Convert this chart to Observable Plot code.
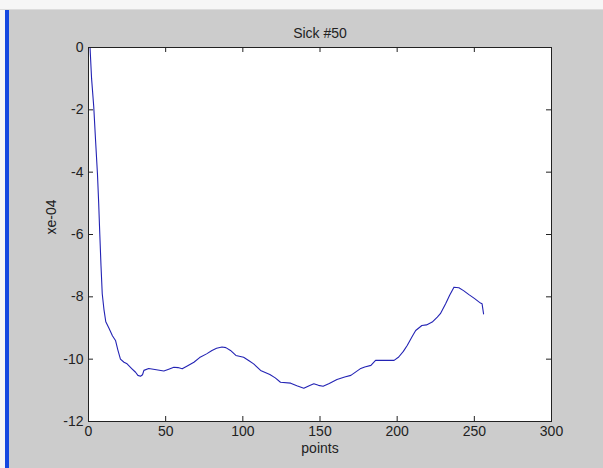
<!DOCTYPE html>
<html>
<head>
<meta charset="utf-8">
<script src="https://cdn.jsdelivr.net/npm/d3@7"></script>
<script src="https://cdn.jsdelivr.net/npm/@observablehq/plot@0.6"></script>
<style>
  html, body { margin: 0; padding: 0; background: #cccccc; overflow: hidden; }
  #wrap { position: relative; width: 603px; height: 468px; }
  #topband { position: absolute; left: 0; top: 0; width: 603px; height: 10px; background: #f6f6f6; border-bottom: 1px solid #dcdcdc; box-sizing: border-box; }
  #leftwhite { position: absolute; left: 0; top: 10px; width: 5px; height: 458px; background: #f6f6f6; }
  #bluebar { position: absolute; left: 5px; top: 10px; width: 4px; height: 458px; background: #1448e0; }
</style>
</head>
<body>
<div id="wrap">
  <div id="chart"></div>
  <div id="topband"></div>
  <div id="leftwhite"></div>
  <div id="bluebar"></div>
</div>
<script>
const titleText = "Sick #50";
const xLabelText = "points";
const yLabelText = "xe-04";
const xTicks = [0, 50, 100, 150, 200, 250, 300];
const yTicks = [0, -2, -4, -6, -8, -10, -12];

const xs = [1, 2, 3.4, 4.6, 5.8, 6.6, 7.3, 8.1, 8.9, 10, 11.2, 13.2, 15.5, 17.5, 19, 20.7, 23, 25, 28, 30.5, 32, 33.7, 35, 35.9, 39, 43, 48.8, 52, 55.3, 58, 60.7, 64, 68.3, 72, 76.5, 80, 83, 86.5, 89, 92, 95.5, 100.5, 104, 107, 111.5, 117.5, 121, 124.4, 131, 135, 139.5, 143, 146, 149, 152, 156, 161, 166, 170, 176, 179, 183, 186, 192, 198, 201, 204, 206.5, 210, 212, 216, 219, 222.7, 226, 228, 231.4, 234, 236.8, 240, 243, 246.5, 250, 254, 255, 256];
const ys = [0, -1.0, -1.9, -3.0, -4.05, -5.0, -5.97, -7.0, -7.9, -8.4, -8.8, -9.0, -9.25, -9.4, -9.7, -10.0, -10.1, -10.15, -10.3, -10.42, -10.52, -10.55, -10.5, -10.36, -10.3, -10.33, -10.38, -10.32, -10.26, -10.27, -10.31, -10.22, -10.1, -9.95, -9.83, -9.72, -9.65, -9.61, -9.63, -9.72, -9.88, -9.94, -10.05, -10.15, -10.36, -10.49, -10.6, -10.74, -10.77, -10.85, -10.93, -10.85, -10.79, -10.84, -10.87, -10.78, -10.65, -10.57, -10.52, -10.31, -10.25, -10.2, -10.04, -10.04, -10.04, -9.93, -9.75, -9.56, -9.25, -9.08, -8.92, -8.9, -8.81, -8.65, -8.54, -8.22, -7.95, -7.69, -7.71, -7.8, -7.93, -8.05, -8.2, -8.22, -8.55];

const data = xs.map((x, i) => ({x, y: ys[i]}));

const W = 603, H = 468;
const mL = 88, mT = 47, mR = 52, mB = 47;
const plotW = W - mL - mR, plotH = H - mT - mB;
const font = "'Liberation Sans', Arial, sans-serif";

const chart = Plot.plot({
  width: W,
  height: H,
  marginLeft: mL,
  marginTop: mT,
  marginRight: mR,
  marginBottom: mB,
  style: {background: "#cccccc", fontFamily: font, fontSize: "14px", color: "#222"},
  x: {domain: [0, 300], ticks: xTicks},
  y: {domain: [-12, 0], ticks: yTicks},
  marks: [
    Plot.frame({fill: "white", stroke: null}),
    Plot.axisX({ticks: xTicks, tickSize: 0, tickPadding: 5, label: null, tickFormat: d => String(d), fill: "#222"}),
    Plot.axisY({ticks: yTicks, tickSize: 0, tickPadding: 5, label: null, tickFormat: d => String(d), fill: "#222"}),
    Plot.tickX(xTicks, {x: d => d, insetTop: plotH - 5, stroke: "#222"}),
    Plot.tickX(xTicks, {x: d => d, insetBottom: plotH - 5, stroke: "#222"}),
    Plot.tickY(yTicks, {y: d => d, insetRight: plotW - 5, stroke: "#222"}),
    Plot.tickY(yTicks, {y: d => d, insetLeft: plotW - 5, stroke: "#222"}),
    Plot.line(data, {x: "x", y: "y", stroke: "#2323b4", strokeWidth: 1.1}),
    Plot.frame({stroke: "#222", strokeWidth: 1}),
    Plot.text([titleText], {frameAnchor: "top", dy: -19, text: d => d, fontSize: 14, fill: "#222"}),
    Plot.text([xLabelText], {frameAnchor: "bottom", dy: 31, text: d => d, fontSize: 14, fill: "#222"}),
    Plot.text([yLabelText], {frameAnchor: "left", dx: -37, rotate: -90, text: d => d, fontSize: 14, fill: "#222"})
  ]
});
document.getElementById("chart").appendChild(chart);
</script>
</body>
</html>
